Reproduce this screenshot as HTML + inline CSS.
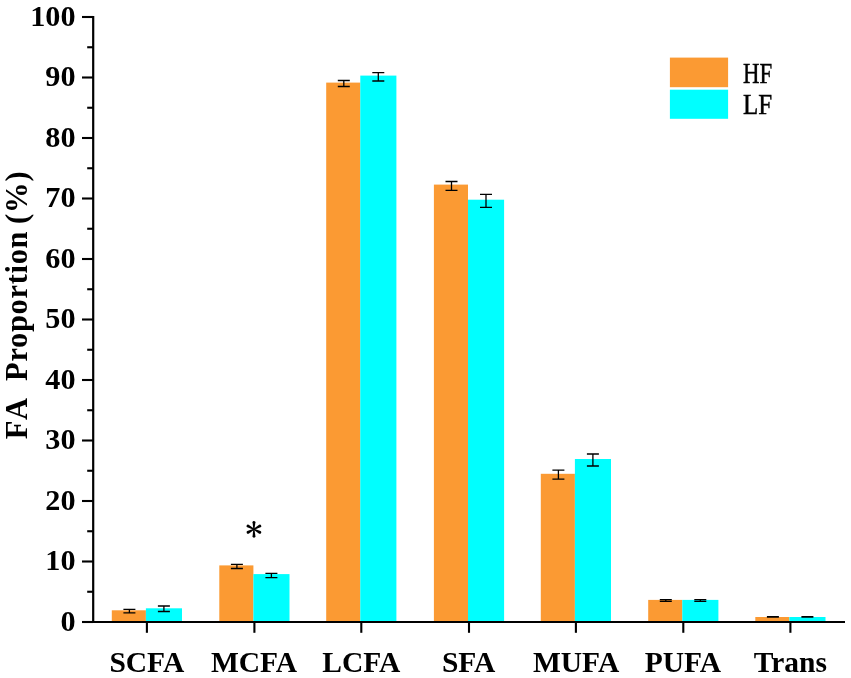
<!DOCTYPE html>
<html><head><meta charset="utf-8"><style>
html,body{margin:0;padding:0;background:#fff;}
svg{display:block;will-change:transform;}
text{font-family:"Liberation Serif",serif;fill:#000;}
.bx{font-weight:bold;font-size:29.5px;}
.by{font-weight:bold;font-size:30.2px;}
.bt{font-weight:bold;font-size:30.5px;}
.r{font-size:29.3px;stroke:#000;stroke-width:0.45px;}
</style></head><body>
<svg width="851" height="678" viewBox="0 0 851 678">
<rect x="111.80" y="610.30" width="34.1" height="11.70" fill="#FB9A33"/>
<rect x="145.90" y="608.30" width="36.1" height="13.70" fill="#00FFFF"/>
<rect x="219.30" y="565.40" width="34.1" height="56.60" fill="#FB9A33"/>
<rect x="253.40" y="574.10" width="36.1" height="47.90" fill="#00FFFF"/>
<rect x="326.20" y="82.60" width="34.1" height="539.40" fill="#FB9A33"/>
<rect x="360.30" y="75.60" width="36.1" height="546.40" fill="#00FFFF"/>
<rect x="433.90" y="184.60" width="34.1" height="437.40" fill="#FB9A33"/>
<rect x="468.00" y="199.70" width="36.1" height="422.30" fill="#00FFFF"/>
<rect x="540.80" y="473.80" width="34.1" height="148.20" fill="#FB9A33"/>
<rect x="574.90" y="459.00" width="36.1" height="163.00" fill="#00FFFF"/>
<rect x="648.20" y="599.90" width="34.1" height="22.10" fill="#FB9A33"/>
<rect x="682.30" y="599.90" width="36.1" height="22.10" fill="#00FFFF"/>
<rect x="755.30" y="617.00" width="34.1" height="5.00" fill="#FB9A33"/>
<rect x="789.40" y="617.00" width="36.1" height="5.00" fill="#00FFFF"/>
<path d="M123.40 609.30H135.40M123.40 612.80H135.40M129.40 609.30V612.80" stroke="#000" stroke-width="1.3" fill="none"/>
<path d="M157.90 606.00H169.90M157.90 611.50H169.90M163.90 606.00V611.50" stroke="#000" stroke-width="1.3" fill="none"/>
<path d="M230.90 564.30H242.90M230.90 568.50H242.90M236.90 564.30V568.50" stroke="#000" stroke-width="1.3" fill="none"/>
<path d="M265.40 573.40H277.40M265.40 577.60H277.40M271.40 573.40V577.60" stroke="#000" stroke-width="1.3" fill="none"/>
<path d="M337.80 80.50H349.80M337.80 86.50H349.80M343.80 80.50V86.50" stroke="#000" stroke-width="1.3" fill="none"/>
<path d="M372.30 72.60H384.30M372.30 81.00H384.30M378.30 72.60V81.00" stroke="#000" stroke-width="1.3" fill="none"/>
<path d="M445.50 181.50H457.50M445.50 190.30H457.50M451.50 181.50V190.30" stroke="#000" stroke-width="1.3" fill="none"/>
<path d="M480.00 194.40H492.00M480.00 207.30H492.00M486.00 194.40V207.30" stroke="#000" stroke-width="1.3" fill="none"/>
<path d="M552.40 470.20H564.40M552.40 479.20H564.40M558.40 470.20V479.20" stroke="#000" stroke-width="1.3" fill="none"/>
<path d="M586.90 454.00H598.90M586.90 466.00H598.90M592.90 454.00V466.00" stroke="#000" stroke-width="1.3" fill="none"/>
<path d="M659.80 599.70H671.80M659.80 601.30H671.80M665.80 599.70V601.30" stroke="#000" stroke-width="1.3" fill="none"/>
<path d="M694.30 599.70H706.30M694.30 601.30H706.30M700.30 599.70V601.30" stroke="#000" stroke-width="1.3" fill="none"/>
<path d="M766.90 616.60H778.90M766.90 617.20H778.90M772.90 616.60V617.20" stroke="#000" stroke-width="1.3" fill="none"/>
<path d="M801.40 616.60H813.40M801.40 617.20H813.40M807.40 616.60V617.20" stroke="#000" stroke-width="1.3" fill="none"/>
<path d="M93.2 16V623M82 622H845" stroke="#000" stroke-width="2.2" fill="none"/>
<path d="M82 622.00H93" stroke="#000" stroke-width="2.1"/>
<path d="M82 561.50H93" stroke="#000" stroke-width="2.1"/>
<path d="M82 501.00H93" stroke="#000" stroke-width="2.1"/>
<path d="M82 440.50H93" stroke="#000" stroke-width="2.1"/>
<path d="M82 380.00H93" stroke="#000" stroke-width="2.1"/>
<path d="M82 319.50H93" stroke="#000" stroke-width="2.1"/>
<path d="M82 259.00H93" stroke="#000" stroke-width="2.1"/>
<path d="M82 198.50H93" stroke="#000" stroke-width="2.1"/>
<path d="M82 138.00H93" stroke="#000" stroke-width="2.1"/>
<path d="M82 77.50H93" stroke="#000" stroke-width="2.1"/>
<path d="M82 17.00H93" stroke="#000" stroke-width="2.1"/>
<path d="M87.2 591.75H93" stroke="#000" stroke-width="2.1"/>
<path d="M87.2 531.25H93" stroke="#000" stroke-width="2.1"/>
<path d="M87.2 470.75H93" stroke="#000" stroke-width="2.1"/>
<path d="M87.2 410.25H93" stroke="#000" stroke-width="2.1"/>
<path d="M87.2 349.75H93" stroke="#000" stroke-width="2.1"/>
<path d="M87.2 289.25H93" stroke="#000" stroke-width="2.1"/>
<path d="M87.2 228.75H93" stroke="#000" stroke-width="2.1"/>
<path d="M87.2 168.25H93" stroke="#000" stroke-width="2.1"/>
<path d="M87.2 107.75H93" stroke="#000" stroke-width="2.1"/>
<path d="M87.2 47.25H93" stroke="#000" stroke-width="2.1"/>
<path d="M146.90 622V632.8" stroke="#000" stroke-width="2.1"/>
<path d="M254.40 622V632.8" stroke="#000" stroke-width="2.1"/>
<path d="M361.30 622V632.8" stroke="#000" stroke-width="2.1"/>
<path d="M469.00 622V632.8" stroke="#000" stroke-width="2.1"/>
<path d="M575.90 622V632.8" stroke="#000" stroke-width="2.1"/>
<path d="M683.30 622V632.8" stroke="#000" stroke-width="2.1"/>
<path d="M790.40 622V632.8" stroke="#000" stroke-width="2.1"/>
<text x="75.5" y="630.50" text-anchor="end" class="by">0</text>
<text x="75.5" y="570.00" text-anchor="end" class="by">10</text>
<text x="75.5" y="509.50" text-anchor="end" class="by">20</text>
<text x="75.5" y="449.00" text-anchor="end" class="by">30</text>
<text x="75.5" y="388.50" text-anchor="end" class="by">40</text>
<text x="75.5" y="328.00" text-anchor="end" class="by">50</text>
<text x="75.5" y="267.50" text-anchor="end" class="by">60</text>
<text x="75.5" y="207.00" text-anchor="end" class="by">70</text>
<text x="75.5" y="146.50" text-anchor="end" class="by">80</text>
<text x="75.5" y="86.00" text-anchor="end" class="by">90</text>
<text x="75.5" y="25.50" text-anchor="end" class="by">100</text>
<text x="146.85" y="671.8" text-anchor="middle" class="bx">SCFA</text>
<text x="254.05" y="671.8" text-anchor="middle" class="bx">MCFA</text>
<text x="361.30" y="671.8" text-anchor="middle" class="bx">LCFA</text>
<text x="468.65" y="671.8" text-anchor="middle" class="bx">SFA</text>
<text x="576.10" y="671.8" text-anchor="middle" class="bx">MUFA</text>
<text x="682.90" y="671.8" text-anchor="middle" class="bx">PUFA</text>
<text x="790.30" y="671.8" text-anchor="middle" class="bx">Trans</text>
<g transform="translate(27.0 0) rotate(-90)"><text x="-439.20" y="0" class="bt" textLength="41.30" lengthAdjust="spacing">FA</text><text x="-380.90" y="0" class="bt" textLength="149.40" lengthAdjust="spacing">Proportion</text><text x="-224.00" y="0" class="bt" textLength="52.70" lengthAdjust="spacing">(%)</text></g>
<path d="M254.45 529.31L255.43 522.37A1.45 1.45 0 0 0 252.53 522.33L253.35 529.29Z" fill="#000"/><path d="M253.35 529.31L252.53 536.37A1.45 1.45 0 0 0 255.43 536.33L254.45 529.29Z" fill="#000"/><path d="M254.16 528.82L248.67 524.82A1.45 1.45 0 0 0 247.28 527.37L253.64 529.78Z" fill="#000"/><path d="M254.16 529.78L260.52 527.37A1.45 1.45 0 0 0 259.13 524.82L253.64 528.82Z" fill="#000"/><path d="M253.65 528.81L247.33 531.05A1.45 1.45 0 0 0 248.65 533.63L254.15 529.79Z" fill="#000"/><path d="M253.65 529.79L259.15 533.63A1.45 1.45 0 0 0 260.47 531.05L254.15 528.81Z" fill="#000"/>
<rect x="669.9" y="57.6" width="58.2" height="29.6" fill="#FB9A33"/>
<rect x="669.9" y="89.7" width="58.2" height="29.1" fill="#00FFFF"/>
<text x="743" y="82.7" class="r" textLength="29.2" lengthAdjust="spacingAndGlyphs">HF</text>
<text x="743" y="114.4" class="r" textLength="29.2" lengthAdjust="spacingAndGlyphs">LF</text>
</svg>
</body></html>
